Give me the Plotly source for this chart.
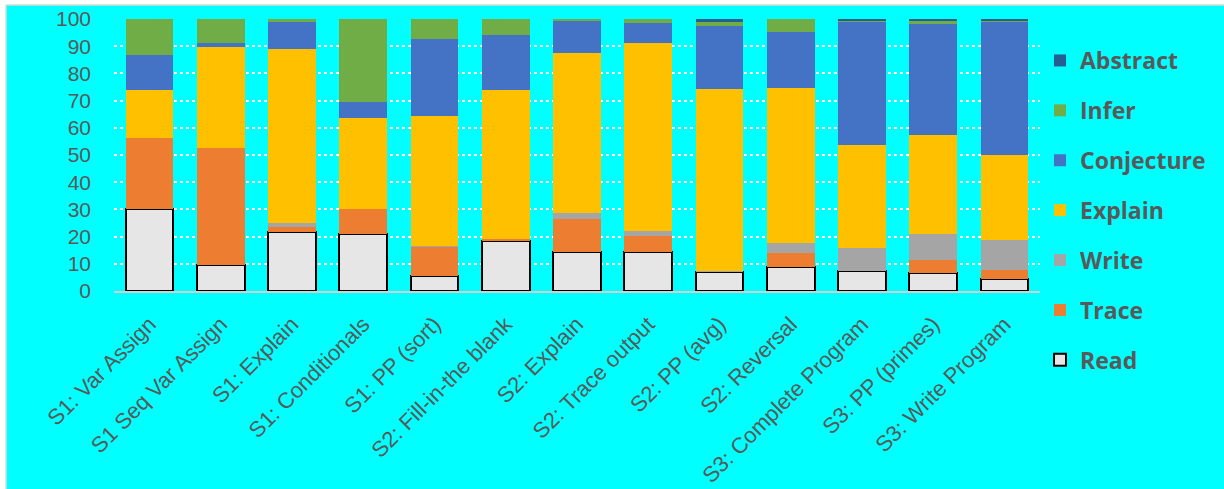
import plotly.graph_objects as go

categories = ["S1: Var Assign", "S1 Seq Var Assign", "S1: Explain", "S1: Conditionals",
              "S1: PP (sort)", "S2: Fill-in-the blank", "S2: Explain", "S2: Trace output",
              "S2: PP (avg)", "S2: Reversal", "S3: Complete Program", "S3: PP (primes)",
              "S3: Write Program"]

read = [30.1, 9.7, 21.8, 21.1, 5.4, 18.5, 14.2, 14.5, 7.0, 8.9, 7.5, 6.7, 4.5]
trace = [26.3, 43.0, 1.7, 9.0, 10.8, 0.7, 12.3, 5.8, 0.0, 5.2, 0.0, 4.8, 3.3]
write = [0.0, 0.0, 1.5, 0.0, 0.5, 0.0, 2.2, 1.6, 0.3, 3.5, 8.2, 9.5, 11.0]
explain = [17.4, 37.1, 64.0, 33.5, 47.5, 54.6, 58.8, 69.1, 67.1, 57.1, 38.0, 36.4, 31.2]
conjecture = [13.0, 1.5, 10.0, 6.0, 28.4, 20.4, 11.9, 7.4, 23.1, 20.6, 45.3, 40.9, 48.8]
infer = [13.2, 8.7, 1.0, 30.4, 7.4, 5.8, 0.6, 1.6, 1.4, 4.7, 0.5, 1.3, 0.8]
abstract = [0.0, 0.0, 0.0, 0.0, 0.0, 0.0, 0.0, 0.0, 1.1, 0.0, 0.5, 0.4, 0.4]

series = [
    ("Read", read, "#E7E6E6"),
    ("Trace", trace, "#ED7D31"),
    ("Write", write, "#A5A5A5"),
    ("Explain", explain, "#FFC000"),
    ("Conjecture", conjecture, "#4472C4"),
    ("Infer", infer, "#70AD47"),
    ("Abstract", abstract, "#255E91"),
]

fig = go.Figure()
n = len(series)
for i, (name, vals, col) in enumerate(series):
    line = dict(color="#000000", width=2) if name == "Read" else dict(width=0)
    fig.add_trace(go.Bar(x=categories, y=vals, name=name, legendgroup=name,
                         legendrank=n - i,
                         marker=dict(color=col, line=line)))

W, H = 1224, 489
L, R, T, B = 114, 184, 19, 198
pw, ph = W - L - R, H - T - B

def px_x(p):
    return (p - L) / pw

def px_y(p):
    return (H - B - p) / ph

fig.add_shape(type="rect", xref="paper", yref="paper",
              x0=px_x(6), x1=px_x(1240), y0=px_y(500), y1=px_y(5),
              fillcolor="#00FFFF", line=dict(color="#D9D9D9", width=1.5), layer="below")

fig.update_layout(
    width=W, height=H,
    margin=dict(l=L, r=R, t=T, b=B, autoexpand=False),
    barmode="stack", bargap=0.33,
    paper_bgcolor="#FFFFFF", plot_bgcolor="rgba(0,0,0,0)",
    showlegend=True,
    legend=dict(x=1.0, xanchor="left", y=px_y(39), yanchor="top",
                traceorder="grouped", tracegroupgap=17, maxheight=460,
                font=dict(family="Open Sans", size=23, color="#595959", weight="bold"),
                bgcolor="rgba(0,0,0,0)"),
    xaxis=dict(tickangle=-45, tickfont=dict(family="Liberation Sans", size=22, color="#595959"),
               showline=True, linecolor="#D0D0D0", linewidth=1.5, ticks="",
               showgrid=False, automargin=False, ticklabelstandoff=10),
    yaxis=dict(range=[0, 100], dtick=10, tickfont=dict(family="Liberation Sans", size=21, color="#595959"),
               showgrid=True, gridcolor="#FFFFFF", griddash="dot", gridwidth=1.5,
               zeroline=False, showline=False, ticks="", ticklabelstandoff=22,
               automargin=False),
)

fig.write_html("out.html")
